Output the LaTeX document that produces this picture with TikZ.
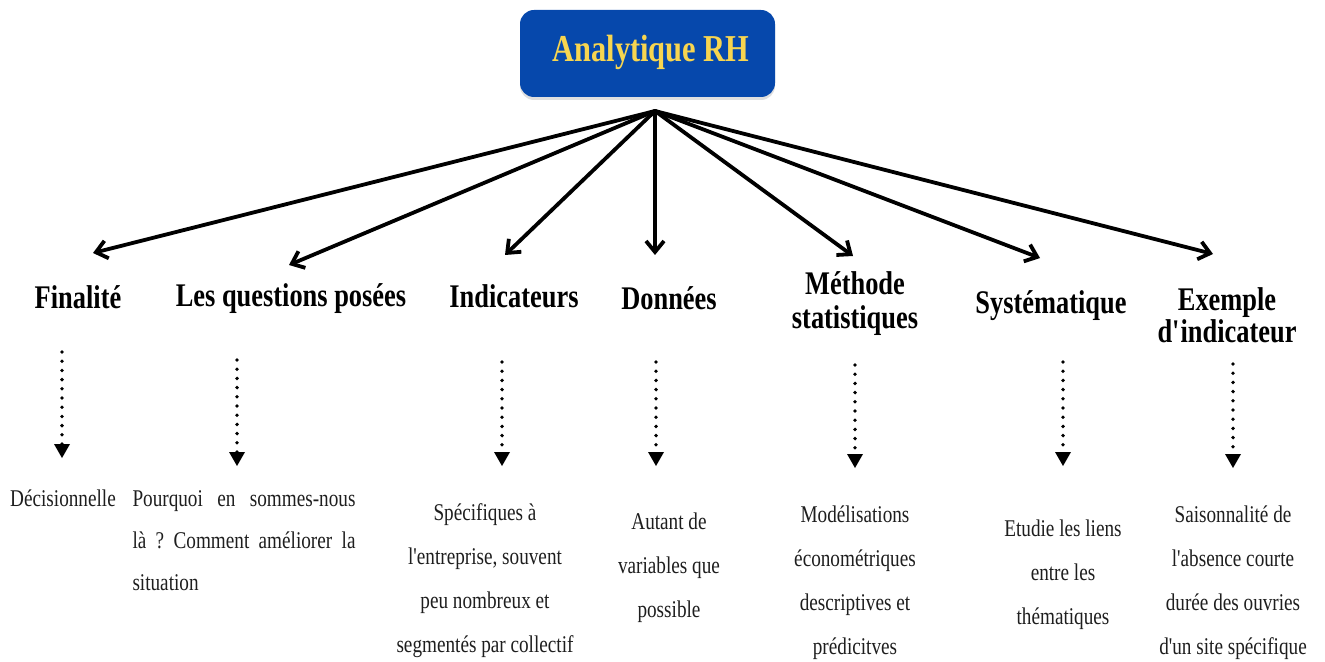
\documentclass[tikz,border=0pt]{standalone}
\usepackage{fontspec}
\setmainfont{Liberation Serif}[FakeStretch=0.8]
\usetikzlibrary{arrows.meta,shadows}

\definecolor{rhblue}{RGB}{6,72,172}
\definecolor{rhyellow}{RGB}{247,213,80}
\definecolor{bodyink}{RGB}{30,30,30}

\newcommand{\apos}{\textquotesingle\kern-0.4pt}
\frenchspacing

\tikzset{
  titlebox/.style={fill=rhblue, rounded corners=7pt,
    drop shadow={opacity=0.25, shadow xshift=0pt, shadow yshift=-1.5pt}},
  head/.style={font=\fontsize{16.5}{19}\selectfont\bfseries, align=center, inner sep=0pt},
  body/.style={font=\fontsize{12}{22}\selectfont, text=bodyink, align=center, inner sep=0pt},
  mainarrow/.style={line width=1.9pt, line cap=round, line join=round,
    -{Straight Barb[length=5.5pt,width=9pt,line width=1.9pt]}},
  dotarrow/.style={line width=1.9pt, line cap=round,
    dash pattern=on 0pt off 4.6pt,
    -{Triangle[length=7pt,width=8pt,line width=0pt, line cap=butt]}}
}

\begin{document}
\begin{tikzpicture}[x=0.5pt, y=-0.5pt]
  \useasboundingbox (0,0) rectangle (1325,662);

  % central box
  \path[titlebox] (520,10) rectangle (775,97);
  \node[font=\fontsize{19}{22}\selectfont\bfseries, text=rhyellow, inner sep=0pt]
    (title) at (651,52) {Analytique RH};

  % hub and arrow tips
  \coordinate (hub) at (655,111);
  \coordinate (t1) at (93,253);
  \coordinate (t2) at (289,265);
  \coordinate (t3) at (505,255);
  \coordinate (t4) at (655,255);
  \coordinate (t5) at (853,256);
  \coordinate (t6) at (1040,258);
  \coordinate (t7) at (1213,254);

  \foreach \t in {t1,t2,t3,t4,t5,t6,t7}
    \draw[mainarrow] (hub) -- (\t);

  % headings
  \node[head] (h1) at (78,297) {Finalité};
  \node[head] (h2) at (291,299) {Les questions posées};
  \node[head] (h3) at (514,296) {Indicateurs};
  \node[head] (h4) at (669,298) {Données};
  \node[head, align=center] (h5) at (855,304) {Méthode\\[-2pt]statistiques};
  \node[head] (h6) at (1051,306) {Systématique};
  \node[head, align=center] (h7) at (1227,315) {Exemple\\[-3pt]d\apos indicateur};

  % dotted arrows
  \coordinate (s1) at (62,352);   \coordinate (e1) at (62,458);
  \coordinate (s2) at (237,360);  \coordinate (e2) at (237,466);
  \coordinate (s3) at (502,362);  \coordinate (e3) at (502,466);
  \coordinate (s4) at (656,362);  \coordinate (e4) at (656,466);
  \coordinate (s5) at (855,365);  \coordinate (e5) at (855,468);
  \coordinate (s6) at (1063,362); \coordinate (e6) at (1063,466);
  \coordinate (s7) at (1233,364); \coordinate (e7) at (1233,468);
  \foreach \i in {1,...,7}
    \draw[dotarrow] (s\i) -- (e\i);

  % descriptions
  \node[body] (b1) at (63,498) {Décisionnelle};
  \node[body, align=left, font=\fontsize{12}{21}\selectfont] (b2) at (244,541)
    {\makebox[111.5pt][s]{Pourquoi en sommes-nous}\\
     \makebox[111.5pt][s]{là ? Comment améliorer la}\\
     situation};
  \node[body] (b3) at (485,581)
    {Spécifiques à\\l\apos entreprise, souvent\\peu nombreux et\\segmentés par collectif};
  \node[body] (b4) at (669,568) {Autant de\\variables que\\possible};
  \node[body] (b5) at (855,583)
    {Modélisations\\économétriques\\descriptives et\\prédicitves};
  \node[body] (b6) at (1063,575) {Etudie les liens\\entre les\\thématiques};
  \node[body] (b7) at (1233,583)
    {Saisonnalité de\\l\apos absence courte\\durée des ouvries\\d\apos un site spécifique};
\end{tikzpicture}
\end{document}
